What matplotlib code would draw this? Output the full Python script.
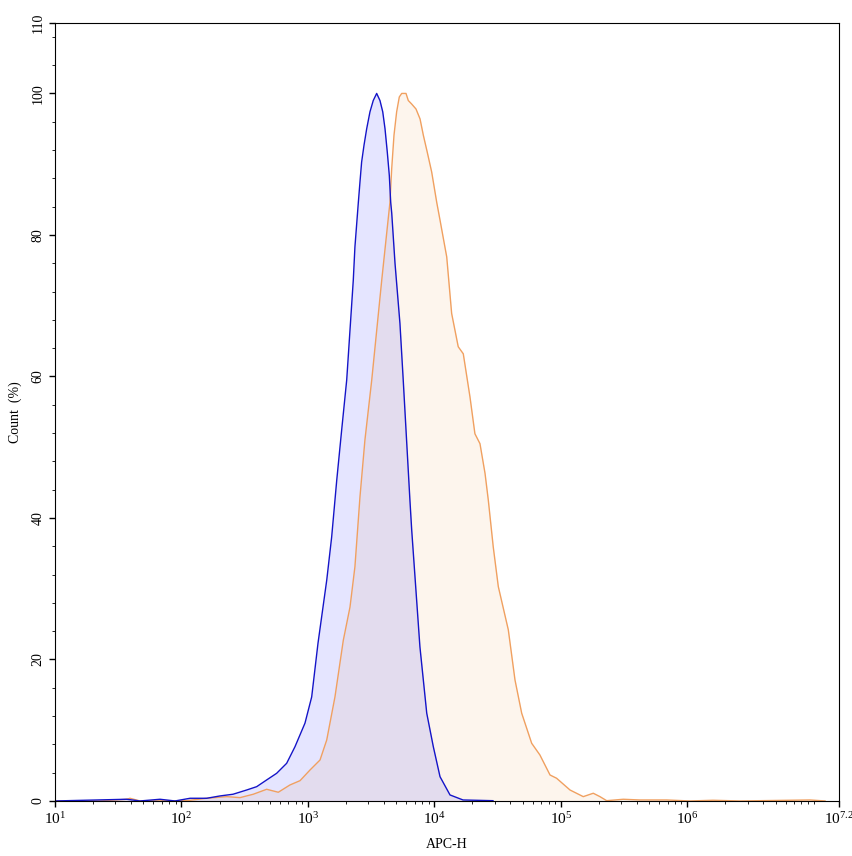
import numpy as np
import matplotlib
matplotlib.use("Agg")
import matplotlib.pyplot as plt
from matplotlib.ticker import FixedLocator, MultipleLocator, NullFormatter

plt.rcParams['font.family'] = ['Liberation Serif', 'DejaVu Serif']
plt.rcParams['mathtext.fontset'] = 'custom'
plt.rcParams['mathtext.rm'] = 'Liberation Serif'
plt.rcParams['mathtext.it'] = 'Liberation Serif'

# blue sample: log10(APC-H) and count (%)
blue_log = [1.0, 1.567, 1.672, 1.830, 1.949, 2.068, 2.200, 2.305, 2.408, 2.516,
            2.595, 2.674, 2.753, 2.832, 2.898, 2.977, 3.030, 3.080, 3.149, 3.188,
            3.228, 3.267, 3.307, 3.359, 3.372, 3.399, 3.412, 3.425, 3.444, 3.465,
            3.491, 3.517, 3.544, 3.570, 3.592, 3.610, 3.628, 3.644, 3.655, 3.663,
            3.689, 3.728, 3.754, 3.807, 3.821, 3.886, 3.940, 3.992, 4.045, 4.124,
            4.227, 4.464]
blue_count = [0, 0.24, 0, 0.24, 0, 0.38, 0.38, 0.71, 0.95, 1.55,
              2.02, 2.97, 3.91, 5.32, 7.67, 11.0, 14.7, 22.3, 31.2, 37.3,
              45.3, 52.4, 59.5, 73.6, 78.3, 84.6, 87.5, 90.3, 92.7, 95.0,
              97.4, 99.0, 100.0, 99.0, 97.4, 95.0, 91.7, 88.4, 84.6, 83.1,
              76.0, 67.5, 59.5, 42.5, 38.3, 21.8, 12.4, 7.67, 3.43, 0.85,
              0.14, 0.04]

# orange sample
orange_log = [1.0, 1.356, 1.567, 1.593, 1.672, 2.042, 2.200, 2.358, 2.463, 2.568,
              2.674, 2.766, 2.858, 2.938, 3.017, 3.096, 3.149, 3.214, 3.280, 3.333,
              3.372, 3.412, 3.451, 3.505, 3.584, 3.649, 3.663, 3.681, 3.702, 3.723,
              3.742, 3.776, 3.794, 3.821, 3.855, 3.887, 3.913, 3.944, 3.979, 4.019,
              4.045, 4.098, 4.137, 4.189, 4.229, 4.282, 4.321, 4.361, 4.401, 4.427,
              4.466, 4.506, 4.585, 4.638, 4.691, 4.770, 4.835, 4.915, 4.967, 5.073,
              5.178, 5.257, 5.310, 5.363, 5.494, 5.626, 5.837, 6.022, 6.204, 6.417,
              6.971, 7.09]
orange_count = [0, 0, 0.24, 0.38, 0, 0.04, 0.38, 0.61, 0.47, 0.95,
                1.65, 1.23, 2.26, 2.87, 4.38, 5.79, 8.62, 14.7, 22.7, 27.4,
                33.1, 43.0, 51.0, 59.5, 73.6, 84.6, 89.4, 94.1, 97.4, 99.5,
                100.0, 100.0, 99.0, 98.5, 97.8, 96.4, 94.1, 91.7, 88.9, 84.6,
                82.1, 76.9, 68.9, 64.2, 63.2, 57.1, 51.9, 50.5, 46.3, 42.5,
                35.9, 30.3, 24.2, 17.1, 12.4, 8.15, 6.50, 3.67, 3.21, 1.55,
                0.61, 1.09, 0.61, 0.04, 0.24, 0.14, 0.14, 0, 0.10, 0,
                0.14, 0]

xtick_exp = [1, 2, 3, 4, 5, 6, 7.2]
xtick_labels = ['$10^{1}$', '$10^{2}$', '$10^{3}$', '$10^{4}$', '$10^{5}$', '$10^{6}$', '$10^{7.2}$']
yticks = [0, 20, 40, 60, 80, 100, 110]

fig = plt.figure(figsize=(8.53, 8.56), dpi=100)
ax = fig.add_axes([0.0645, 0.0643, 0.919, 0.9092])

bx = 10 ** np.array(blue_log)
ox = 10 ** np.array(orange_log)

ax.fill_between(ox, orange_count, 0, color='#F5A050', alpha=0.1, linewidth=0)
ax.plot(ox, orange_count, color='#F0A060', linewidth=1.0)
ax.fill_between(bx, blue_count, 0, color='#0000FF', alpha=0.1, linewidth=0)
ax.plot(bx, blue_count, color='#1414C8', linewidth=1.0)

ax.set_xscale('log')
ax.set_xlim(10, 10 ** 7.2)
ax.set_ylim(0, 110)

ax.xaxis.set_major_locator(FixedLocator([10 ** e for e in xtick_exp]))
ax.set_xticklabels(xtick_labels, fontsize=11)
minor = [k * 10 ** d for d in range(1, 7) for k in range(2, 10)] + [1e7]
ax.xaxis.set_minor_locator(FixedLocator(minor))
ax.xaxis.set_minor_formatter(NullFormatter())

ax.set_yticks(yticks)
ax.set_yticklabels([str(v) for v in yticks], rotation=90, va='center', fontsize=10)
ax.yaxis.set_minor_locator(MultipleLocator(4))

ax.tick_params(which='major', direction='out', length=4, width=1)
ax.tick_params(which='minor', direction='out', length=2, width=0.6)
ax.tick_params(axis='x', which='major', pad=3)

for s in ax.spines.values():
    s.set_linewidth(0.8)

ax.set_xlabel('APC-H', fontsize=10, labelpad=8)
ax.set_ylabel('Count  (%)', fontsize=10, labelpad=7)

fig.savefig('out.png', dpi=100)
